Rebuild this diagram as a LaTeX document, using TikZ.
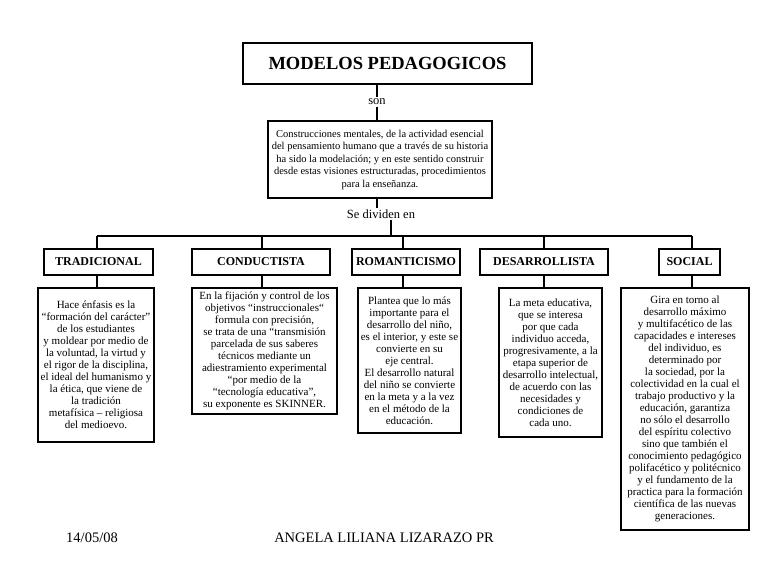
\documentclass[tikz,border=0pt]{standalone}
\usepackage{fontspec}
\setmainfont{Liberation Serif}
\begin{document}
\begin{tikzpicture}[x=1pt,y=-1pt,
  box/.style={draw, line width=1.2pt, inner sep=0pt, align=center},
  titlebox/.style={box, font=\fontsize{18.5}{22}\selectfont\bfseries},
  defbox/.style={box, font=\fontsize{10.5}{12.5}\selectfont},
  catbox/.style={box, minimum height=26pt, font=\fontsize{12}{14}\selectfont\bfseries},
  descbox/.style={box, font=\fontsize{11}{12}\selectfont},
  lbl/.style={inner sep=1.5pt, font=\fontsize{12.5}{14}\selectfont},
  foot/.style={inner sep=0pt, font=\fontsize{14.5}{16}\selectfont},
  conn/.style={line width=1.2pt}]
\useasboundingbox (0,0) rectangle (768,576);

% title and definition
\node[titlebox, minimum width=289pt, minimum height=41pt] (title) at (387.5,63.5) {MODELOS PEDAGOGICOS};
\node[lbl] (son) at (377,102) {son};
\node[defbox, minimum width=224pt, minimum height=77pt] (def) at (380,159.5)
 {Construcciones mentales, de la actividad esencial\\
  del pensamiento humano que a través de su historia\\
  ha sido la modelación; y en este sentido construir\\
  desde estas visiones estructuradas, procedimientos\\
  para la enseñanza.};
\node[lbl] (sedi) at (381,214) {Se dividen en};

\draw[conn] (title.south -| son) -- (son.north);
\draw[conn] (son.south) -- (son |- def.north);
\draw[conn] (def.south -| son) -- (son |- sedi.north);

% bar
\coordinate (hub) at (391,236);
\coordinate (b1) at (97,236);
\coordinate (b2) at (262,236);
\coordinate (b3) at (403,236);
\coordinate (b4) at (544,236);
\coordinate (b5) at (692,236);
\draw[conn] (hub |- sedi.south) -- (hub);
\draw[conn] (b1) -- (b5);

% categories
\node[catbox, minimum width=109pt] (c1) at (98.5,262) {TRADICIONAL};
\node[catbox, minimum width=138pt] (c2) at (261,262) {CONDUCTISTA};
\node[catbox, minimum width=108pt] (c3) at (406,262) {ROMANTICISMO};
\node[catbox, minimum width=128pt] (c4) at (544,262) {DESARROLLISTA};
\node[catbox, minimum width=61pt] (c5) at (689.5,262) {SOCIAL};

% descriptions
\node[descbox, minimum width=116pt, minimum height=154pt] (d1) at (96,365)
 {Hace énfasis es la\\
  “formación del carácter”\\
  de los estudiantes\\
  y moldear por medio de\\
  la voluntad, la virtud y\\
  el rigor de la disciplina,\\
  el ideal del humanismo y\\
  la ética, que viene de\\
  la tradición\\
  metafísica – religiosa\\
  del medioevo.};
\node[descbox, minimum width=145pt, minimum height=126pt] (d2) at (264.5,351)
 {En la fijación y control de los\\
  objetivos “instruccionales“\\
  formula con precisión,\\
  se trata de una “transmisión\\
  parcelada de sus saberes\\
  técnicos mediante un\\
  adiestramiento experimental\\
  “por medio de la\\
  “tecnología educativa”,\\
  su exponente es SKINNER.};
\node[descbox, minimum width=103pt, minimum height=145pt] (d3) at (409.5,360.5)
 {Plantea que lo más\\
  importante para el\\
  desarrollo del niño,\\
  es el interior, y este se\\
  convierte en su\\
  eje central.\\
  El desarrollo natural\\
  del niño se convierte\\
  en la meta y a la vez\\
  en el método de la\\
  educación.};
\node[descbox, minimum width=103pt, minimum height=149pt] (d4) at (550.5,362.5)
 {La meta educativa,\\
  que se interesa\\
  por que cada\\
  individuo acceda,\\
  progresivamente, a la\\
  etapa superior de\\
  desarrollo intelectual,\\
  de acuerdo con las\\
  necesidades y\\
  condiciones de\\
  cada uno.};
\node[descbox, minimum width=128pt, minimum height=242pt] (d5) at (685,409)
 {Gira en torno al\\
  desarrollo máximo\\
  y multifacético de las\\
  capacidades e intereses\\
  del individuo, es\\
  determinado por\\
  la sociedad, por la\\
  colectividad en la cual el\\
  trabajo productivo y la\\
  educación, garantiza\\
  no sólo el desarrollo\\
  del espíritu colectivo\\
  sino que también el\\
  conocimiento pedagógico\\
  polifacético y politécnico\\
  y el fundamento de la\\
  practica para la formación\\
  científica de las nuevas\\
  generaciones.};

% drops
\foreach \i in {1,...,5}{
  \draw[conn] (b\i) -- (b\i |- c\i.north);
  \draw[conn] (c\i.south -| b\i) -- (b\i |- d\i.north);
}

% footer
\node[foot] (date) at (92,537.5) {14/05/08};
\node[foot] (author) at (384,537.5) {ANGELA LILIANA LIZARAZO PR};
\end{tikzpicture}
\end{document}
